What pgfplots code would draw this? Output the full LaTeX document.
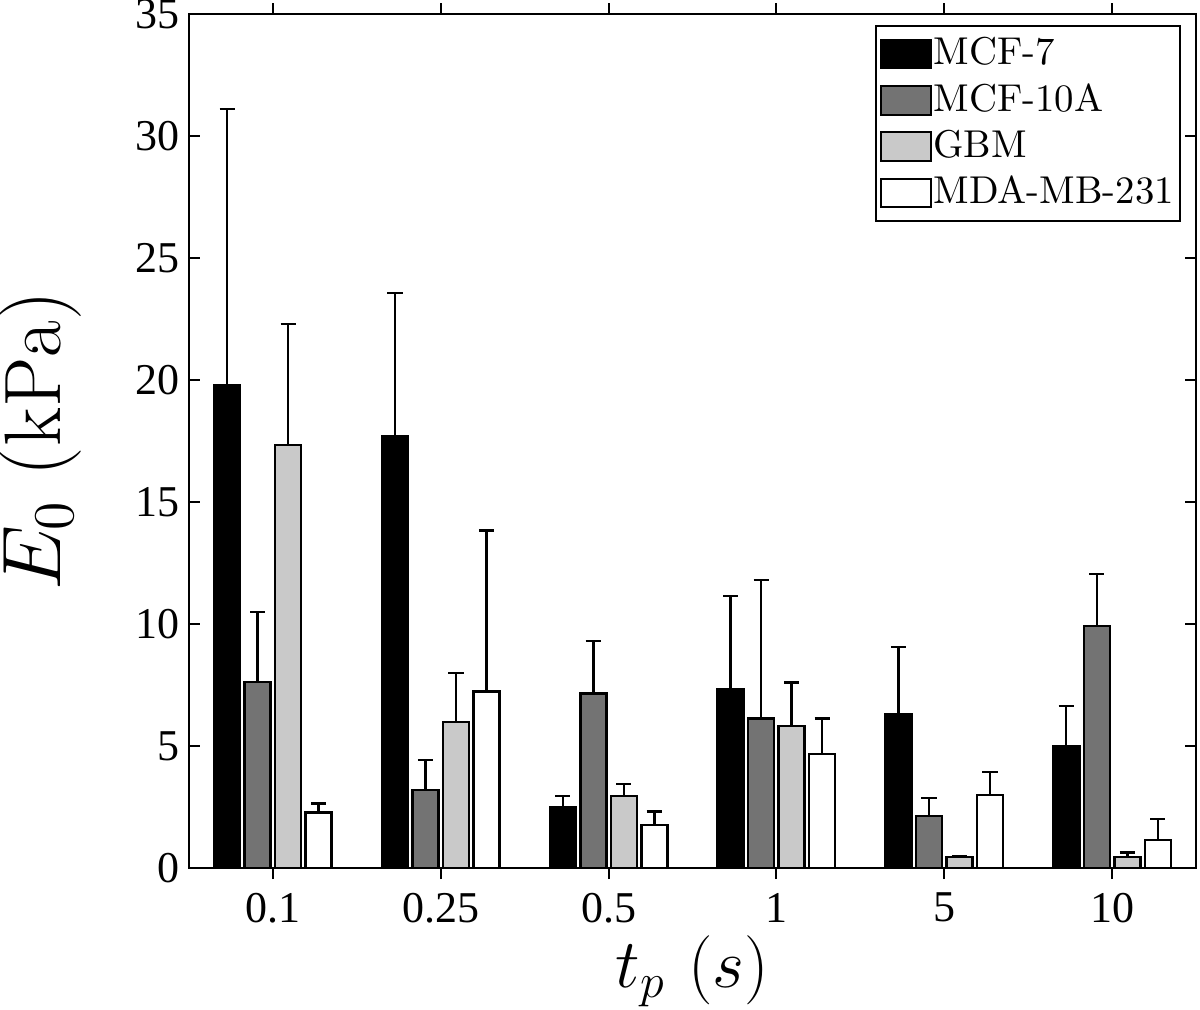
\documentclass[border=0pt]{standalone}
\usepackage{pgfplots}
\pgfplotsset{compat=1.18}
\usepackage{fontspec}
\newfontfamily\timesfont{Liberation Serif}
\definecolor{dgray}{gray}{0.45}
\definecolor{lgray}{gray}{0.79}
\begin{document}
\begin{tikzpicture}
\begin{axis}[
  at={(0,0)}, anchor=south west,
  scale only axis, width=251.75pt, height=213.5pt,
  xmin=-0.5, xmax=5.5, ymin=0, ymax=35,
  xtick={0,...,5}, xticklabels={0.1,0.25,0.5,1,5,10},
  ytick={0,5,...,35},
  tick align=inside, major tick length=2.75pt,
  tick style={line width=0.5pt, black},
  axis line style={line width=0.6pt},
  /pgf/number format/assume math mode=true,
  tick label style={font=\timesfont\fontsize{11}{13}\selectfont},
  xticklabel style={yshift=0pt},
  yticklabel style={xshift=1.2pt},
  xlabel={$t_p\ (s)$}, ylabel={$E_0\ (\mathrm{kPa})$},
  xlabel style={at={(axis description cs:0.5,-0.121)}, anchor=center, font=\fontsize{18.8}{22}\selectfont},
  ylabel style={at={(axis description cs:-0.148,0.5)}, anchor=center, font=\fontsize{20}{24}\selectfont},
  ybar, bar width=0.155,
  legend style={at={(rel axis cs:0.985,0.987)}, anchor=north east, draw=black, line width=0.5pt,
    font=\fontsize{9.7}{11.6}\selectfont, inner xsep=1pt, inner ysep=1.3pt, row sep=0.2pt,
    nodes={inner xsep=0.5pt, inner ysep=1.5pt}},
  legend cell align=left,
  legend image code/.code={\draw[#1, line width=0.5pt] (0pt,-3.6pt) rectangle (12.5pt,3.6pt);},
  error bars/y dir=plus, error bars/y explicit,
  error bars/error mark=|,
  error bars/error bar style={line width=0.6pt, black, solid},
  error bars/error mark options={line width=0.6pt, mark size=1.9pt, black, solid},
]
\addplot[draw=black, line width=0.6pt, fill=black, bar shift=-0.2727] coordinates {
 (0,19.8) +- (0,11.3)
 (1,17.68) +- (0,5.89)
 (2,2.48) +- (0,0.48)
 (3,7.34) +- (0,3.81)
 (4,6.3) +- (0,2.77)
 (5,5.0) +- (0,1.64)
};
\addlegendentry{MCF-7}
\addplot[draw=black, line width=0.6pt, fill=dgray, bar shift=-0.0909] coordinates {
 (0,7.63) +- (0,2.87)
 (1,3.2) +- (0,1.23)
 (2,7.16) +- (0,2.14)
 (3,6.13) +- (0,5.67)
 (4,2.14) +- (0,0.74)
 (5,9.93) +- (0,2.12)
};
\addlegendentry{MCF-10A}
\addplot[draw=black, line width=0.6pt, fill=lgray, bar shift=0.0909] coordinates {
 (0,17.34) +- (0,4.96)
 (1,5.99) +- (0,1.99)
 (2,2.95) +- (0,0.49)
 (3,5.83) +- (0,1.78)
 (4,0.44) +- (0,0.05)
 (5,0.46) +- (0,0.17)
};
\addlegendentry{GBM}
\addplot[draw=black, line width=0.6pt, fill=white, bar shift=0.2727] coordinates {
 (0,2.28) +- (0,0.37)
 (1,7.24) +- (0,6.6)
 (2,1.76) +- (0,0.55)
 (3,4.68) +- (0,1.45)
 (4,2.99) +- (0,0.94)
 (5,1.15) +- (0,0.85)
};
\addlegendentry{MDA-MB-231}
\end{axis}
\pgfresetboundingbox
\path (-47.25pt,-35.25pt) rectangle (252.75pt,217pt);
\end{tikzpicture}
\end{document}
